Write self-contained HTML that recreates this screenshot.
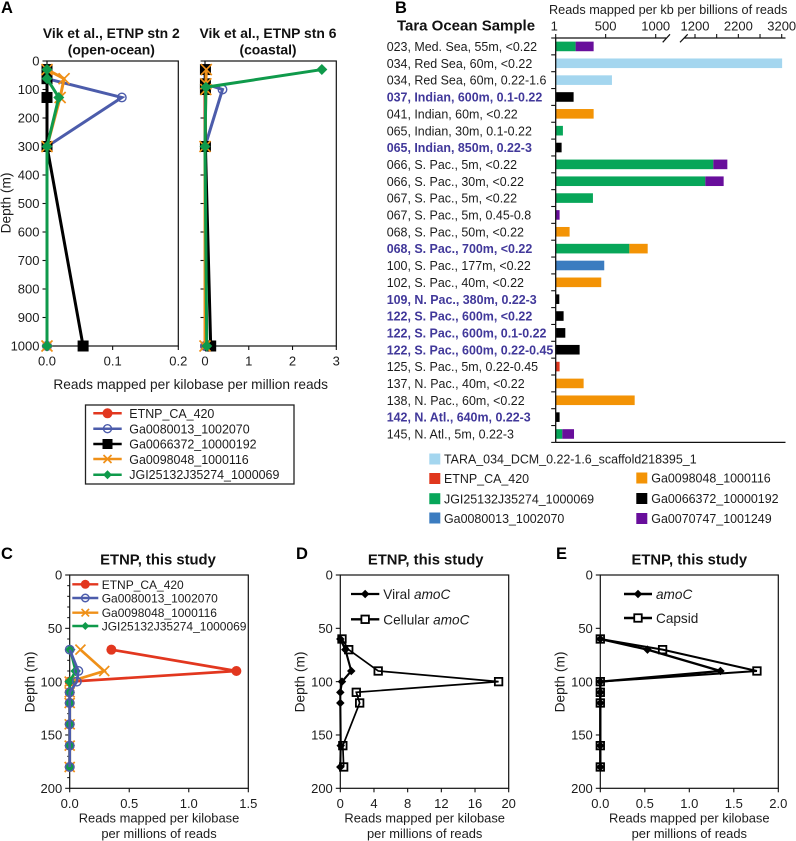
<!DOCTYPE html>
<html lang="en">
<head>
<meta charset="utf-8">
<title>Reads mapped depth profiles and Tara Ocean samples</title>
<style>
  html, body { margin: 0; padding: 0; background: #fff; }
  svg { display: block; filter: blur(0.3px); }
  text { font-family: "Liberation Sans", Arial, sans-serif; fill: #1c1c1c; }
  .t { font-weight: bold; fill: #111; text-anchor: middle; }
  .l { font-weight: bold; fill: #000; font-size: 16.5px; }
  .ax { font-size: 13.7px; text-anchor: middle; }
  .ax2 { font-size: 12.9px; text-anchor: middle; }
  .lg { font-size: 12.45px; }
</style>
</head>
<body>
<svg id="fig" xmlns="http://www.w3.org/2000/svg" width="796" height="841" viewBox="0 0 796 841">
  <rect x="0" y="0" width="796" height="841" fill="#fff"/>

  <!-- Panel letters -->
  <text class="l" x="1" y="13">A</text>
  <text class="l" x="395" y="13">B</text>
  <text class="l" x="1" y="559">C</text>
  <text class="l" x="296" y="559">D</text>
  <text class="l" x="556" y="559">E</text>

  <!-- Panel A text -->
  <text class="t" x="111.3" y="38" font-size="13.9">Vik et al., ETNP stn 2</text>
  <text class="t" x="111.3" y="54.5" font-size="13.9">(open-ocean)</text>
  <text class="t" x="268" y="38" font-size="13.9">Vik et al., ETNP stn 6</text>
  <text class="t" x="268" y="54.5" font-size="13.9">(coastal)</text>
  <text class="ax" transform="translate(10.5,203) rotate(-90)">Depth (m)</text>
  <text class="ax" x="190.7" y="389">Reads mapped per kilobase per million reads</text>

  <!-- Panel A legend -->
  <rect x="85.5" y="405" width="208.5" height="79" fill="#fff" stroke="#222" stroke-width="1.3"/>
  <text class="lg" x="129.3" y="418">ETNP_CA_420</text>
  <text class="lg" x="129.3" y="433.3">Ga0080013_1002070</text>
  <text class="lg" x="129.3" y="448.6">Ga0066372_10000192</text>
  <text class="lg" x="129.3" y="463.8">Ga0098048_1000116</text>
  <text class="lg" x="129.3" y="479.2">JGI25132J35274_1000069</text>

  <!-- Panel B text -->
  <text class="t" x="466" y="30.5" font-size="15">Tara Ocean Sample</text>
  <text x="549" y="14" font-size="12.7">Reads mapped per kb per billions of reads</text>

  <!-- Panel B legend text -->
  <text class="lg" x="444" y="463.5">TARA_034_DCM_0.22-1.6_scaffold218395_1</text>
  <text class="lg" x="444" y="483">ETNP_CA_420</text>
  <text class="lg" x="444" y="503.5">JGI25132J35274_1000069</text>
  <text class="lg" x="444" y="523">Ga0080013_1002070</text>
  <text class="lg" x="651.3" y="482.5">Ga0098048_1000116</text>
  <text class="lg" x="651.3" y="503">Ga0066372_10000192</text>
  <text class="lg" x="651.3" y="523">Ga0070747_1001249</text>

  <!-- Panel C text -->
  <text class="t" x="158" y="564.5" font-size="14.8">ETNP, this study</text>
  <text class="ax" transform="translate(34.5,682) rotate(-90)">Depth (m)</text>
  <text class="ax2" x="159" y="822.5">Reads mapped per kilobase</text>
  <text class="ax2" x="159" y="838">per millions of reads</text>
  <text x="101.7" y="589" font-size="12">ETNP_CA_420</text>
  <text x="101.7" y="602.5" font-size="12">Ga0080013_1002070</text>
  <text x="101.7" y="617" font-size="12">Ga0098048_1000116</text>
  <text x="101.7" y="630.5" font-size="12">JGI25132J35274_1000069</text>

  <!-- Panel D text -->
  <text class="t" x="425.7" y="564.5" font-size="14.8">ETNP, this study</text>
  <text class="ax" transform="translate(304.5,682) rotate(-90)">Depth (m)</text>
  <text class="ax2" x="424.7" y="822.5">Reads mapped per kilobase</text>
  <text class="ax2" x="424.7" y="838">per millions of reads</text>
  <text x="383.3" y="599" font-size="13.6">Viral <tspan font-style="italic">amoC</tspan></text>
  <text x="383.3" y="624.3" font-size="13.6">Cellular <tspan font-style="italic">amoC</tspan></text>

  <!-- Panel E text -->
  <text class="t" x="689.3" y="564.5" font-size="14.8">ETNP, this study</text>
  <text class="ax" transform="translate(564.5,682) rotate(-90)">Depth (m)</text>
  <text class="ax2" x="689.3" y="822.5">Reads mapped per kilobase</text>
  <text class="ax2" x="689.3" y="838">per millions of reads</text>
  <text x="656" y="599" font-size="13.6" font-style="italic">amoC</text>
  <text x="656" y="623" font-size="13.6">Capsid</text>
</svg>

<script>
// ---------- Panel A1 data (depth m, reads per kb per million) ----------
var a1Depths = [30, 62, 128, 300, 1000];
var a1Etnp = [0, 0, 0, 0, 0];
var a1Ga0080013 = [0, 0, 0.114, 0, 0];
var a1Ga0066372 = [0, 0, 0, 0, 0.055];
var a1Ga0098048 = [0, 0.026, 0.02, 0, 0];
var a1Jgi = [0, 0, 0.018, 0, 0];
var a1XTicks = [0, 0.1, 0.2];
var a1XLabels = ['0.0', '0.1', '0.2'];

// ---------- Panel A2 data ----------
var a2Depths = [30, 80, 100, 300, 1000];
var a2GreenDepths = [30, 92, 300, 1000];
var a2Etnp = [0, 0, 0, 0, 0];
var a2Ga0080013 = [0, 0, 0.4, 0, 0];
var a2Ga0066372 = [0.01, 0.01, 0.01, 0.01, 0.13];
var a2Ga0098048 = [0.03, 0.02, 0.02, 0, 0];
var a2Jgi = [2.67, 0.02, 0, 0.04];
var a2XTicks = [0, 1, 2, 3];
var a2XLabels = ['0', '1', '2', '3'];
var aDepthTicks = [0, 100, 200, 300, 400, 500, 600, 700, 800, 900, 1000];

// ---------- Panel B data ----------
var taraSamples = ['023, Med. Sea, 55m, <0.22', '034, Red Sea, 60m, <0.22', '034, Red Sea, 60m, 0.22-1.6', '037, Indian, 600m, 0.1-0.22', '041, Indian, 60m, <0.22', '065, Indian, 30m, 0.1-0.22', '065, Indian, 850m, 0.22-3', '066, S. Pac., 5m, <0.22', '066, S. Pac., 30m, <0.22', '067, S. Pac., 5m, <0.22', '067, S. Pac., 5m, 0.45-0.8', '068, S. Pac., 50m, <0.22', '068, S. Pac., 700m, <0.22', '100, S. Pac., 177m, <0.22', '102, S. Pac., 40m, <0.22', '109, N. Pac., 380m, 0.22-3', '122, S. Pac., 600m, <0.22', '122, S. Pac., 600m, 0.1-0.22', '122, S. Pac., 600m, 0.22-0.45', '125, S. Pac., 5m, 0.22-0.45', '137, N. Pac., 40m, <0.22', '138, N. Pac., 60m, <0.22', '142, N. Atl., 640m, 0.22-3', '145, N. Atl., 5m, 0.22-3'];
var deepSamples = [0, 0, 0, 1, 0, 0, 1, 0, 0, 0, 0, 0, 1, 0, 0, 1, 1, 1, 1, 0, 0, 0, 1, 0];
var barTara = [0, 3210, 563, 0, 0, 0, 0, 0, 0, 0, 0, 0, 0, 0, 0, 0, 0, 0, 0, 0, 0, 0, 0, 0];
var barEtnp = [0, 0, 0, 0, 0, 0, 0, 0, 0, 0, 0, 0, 0, 0, 0, 0, 0, 0, 0, 40, 0, 0, 0, 0];
var barJgi = [200, 0, 0, 0, 0, 73, 0, 1623, 1438, 373, 0, 0, 737, 0, 0, 0, 0, 0, 0, 0, 0, 0, 0, 67];
var barGa0080013 = [0, 0, 0, 0, 0, 0, 0, 0, 0, 0, 0, 0, 0, 486, 0, 0, 0, 0, 0, 0, 0, 0, 0, 0];
var barGa0098048 = [0, 0, 0, 0, 380, 0, 0, 0, 0, 0, 0, 140, 183, 0, 456, 0, 0, 0, 0, 0, 280, 790, 0, 0];
var barGa0066372 = [0, 0, 0, 180, 0, 0, 60, 0, 0, 0, 0, 0, 0, 0, 0, 37, 80, 97, 240, 0, 0, 0, 40, 0];
var barGa0070747 = [180, 0, 0, 0, 0, 0, 0, 323, 423, 0, 40, 0, 0, 0, 0, 0, 0, 0, 0, 0, 0, 0, 0, 117];
var bTickValues = [1, 500, 1000, 1200, 1700, 2200, 2700, 3200];
var bTickLabels = ['1', '500', '1000', '1200', '', '2200', '', '3200'];

// ---------- Panel C data ----------
var cDepths = [70, 90, 100, 110, 120, 140, 160, 180];
var cEtnp = [0.35, 1.4, 0, 0, 0, 0, 0, 0];
var cGa0080013 = [0, 0.073, 0.06, 0, 0, 0, 0, 0];
var cGa0098048 = [0.09, 0.29, 0, 0, 0, 0, 0, 0];
var cJgi = [0.005, 0.05, 0, 0, 0, 0, 0, 0];
var cXTicks = [0, 0.5, 1, 1.5];
var cXLabels = ['0.0', '0.5', '1.0', '1.5'];

// ---------- Panel D data ----------
var dDepths = [60, 70, 90, 100, 110, 120, 160, 180];
var dViral = [0, 0.6, 1.3, 0.2, 0, 0, 0.05, 0];
var dCellular = [0.2, 1, 4.5, 18.8, 1.9, 2.3, 0.3, 0.4];
var dXTicks = [0, 4, 8, 12, 16, 20];
var dXLabels = ['0', '4', '8', '12', '16', '20'];

// ---------- Panel E data ----------
var eDepths = [60, 70, 90, 100, 110, 120, 160, 180];
var eAmoC = [0, 0.53, 1.35, 0, 0, 0, 0, 0];
var eCapsid = [0, 0.7, 1.76, 0, 0, 0, 0, 0];
var eXTicks = [0, 0.5, 1, 1.5, 2];
var eXLabels = ['0.0', '0.5', '1.0', '1.5', '2.0'];
var ceDepthTicks = [0, 50, 100, 150, 200];
var cMinorTicks = [10, 20, 30, 40, 60, 70, 80, 90, 110, 120, 130, 140, 160, 170, 180, 190];

// ---------- Colours ----------
var RED = '#e2371f', BLUE = '#4c5cab', BLK = '#000', ORG = '#ef9018', GRN = '#0f9a4b';

var svg = document.getElementById('fig');
var NS = 'http://www.w3.org/2000/svg';

function mk(tag, attrs, parent) {
  var el = document.createElementNS(NS, tag);
  for (var k in attrs) el.setAttribute(k, attrs[k]);
  (parent || svg).appendChild(el);
  return el;
}

function linear(d0, d1, r0, r1) {
  return function (v) { return r0 + (v - d0) / (d1 - d0) * (r1 - r0); };
}

function drawMarker(g, kind, x, y, color, size) {
  var s = size / 2, m;
  if (kind === 'circle') {
    m = mk('circle', { cx: x, cy: y, r: s, fill: color }, g);
  } else if (kind === 'ring') {
    m = mk('circle', { cx: x, cy: y, r: s, fill: 'none', stroke: color, 'stroke-width': 1.4 }, g);
  } else if (kind === 'square') {
    m = mk('rect', { x: x - s, y: y - s, width: size, height: size, fill: color }, g);
  } else if (kind === 'hollow') {
    m = mk('rect', { x: x - s, y: y - s, width: size, height: size, fill: 'none', stroke: color, 'stroke-width': 1.8 }, g);
  } else if (kind === 'diamond') {
    m = mk('polygon', { points: (x - s) + ',' + y + ' ' + x + ',' + (y - s) + ' ' + (x + s) + ',' + y + ' ' + x + ',' + (y + s), fill: color }, g);
  } else {
    m = mk('path', { d: 'M' + (x - s) + ' ' + (y - s) + 'L' + (x + s) + ' ' + (y + s) + 'M' + (x - s) + ' ' + (y + s) + 'L' + (x + s) + ' ' + (y - s), stroke: color, 'stroke-width': 1.7, fill: 'none' }, g);
  }
  
  
}

function drawSeries(name, depths, values, xs, ys, color, kind, size, width) {
  var g = mk('g', {});
  
  
  var pts = values.map(function (v, i) { return xs(v) + ',' + ys(depths[i]); }).join(' ');
  var line = mk('polyline', { points: pts, fill: 'none', stroke: color, 'stroke-width': width, 'stroke-linejoin': 'miter' }, g);
  
  
  values.forEach(function (v, i) { drawMarker(g, kind, xs(v), ys(depths[i]), color, size); });
}

function tickText(name, x, y, str, anchor, size) {
  var t = mk('text', { x: x, y: y, 'text-anchor': anchor, 'font-size': size });
  
  
  t.textContent = str;
}

function drawFrame(name, x0, x1, y0, y1, xs, ys, xTicks, xLabels, yTicks, yLabelled, minor) {
  var f = mk('rect', { x: x0, y: y0, width: x1 - x0, height: y1 - y0, fill: 'none', stroke: '#111', 'stroke-width': 1.2 });
  
  
  xTicks.forEach(function (v, i) {
    var t = mk('line', { x1: xs(v), x2: xs(v), y1: y1, y2: y1 + 4, stroke: '#111', 'stroke-width': 1.1 });
    
    
    tickText(name + '-x-tick-label', xs(v), y1 + 19.5, xLabels[i], 'middle', 13);
  });
  yTicks.forEach(function (v) {
    var t = mk('line', { x1: x0 - 4.5, x2: x0, y1: ys(v), y2: ys(v), stroke: '#111', 'stroke-width': 1.1 });
    
    
    if (yLabelled) tickText(name + '-y-tick-label', x0 - 7.5, ys(v) + 4.6, String(v), 'end', 13);
  });
  (minor || []).forEach(function (v) {
    var t = mk('line', { x1: x0 - 2.5, x2: x0, y1: ys(v), y2: ys(v), stroke: '#111', 'stroke-width': 1 });
    
    
  });
}

function drawKey(name, x1, x2, y, color, kind, size, width) {
  var g = mk('g', {});
  
  
  var ln = mk('line', { x1: x1, x2: x2, y1: y, y2: y, stroke: color, 'stroke-width': width }, g);
  
  
  if (kind === 'hollow') {
    var bg = mk('rect', { x: (x1 + x2) / 2 - size / 2, y: y - size / 2, width: size, height: size, fill: '#fff' }, g);
    
    
  }
  drawMarker(g, kind, (x1 + x2) / 2, y, color, size);
}

// ---------- Panel A1 ----------
var a1x = linear(0, 0.2, 47, 178.3), a1y = linear(0, 1000, 61, 346);
drawFrame('panel-a1', 47, 178.3, 61, 346, a1x, a1y, a1XTicks, a1XLabels, aDepthTicks, true);
drawSeries('a1-etnp-ca-420', a1Depths, a1Etnp, a1x, a1y, RED, 'circle', 10, 3);
drawSeries('a1-ga0080013', a1Depths, a1Ga0080013, a1x, a1y, BLUE, 'ring', 8.5, 3);
drawSeries('a1-ga0066372', a1Depths, a1Ga0066372, a1x, a1y, BLK, 'square', 11, 3);
drawSeries('a1-ga0098048', a1Depths, a1Ga0098048, a1x, a1y, ORG, 'cross', 11, 3);
drawSeries('a1-jgi25132', a1Depths, a1Jgi, a1x, a1y, GRN, 'diamond', 11, 3);

// ---------- Panel A2 ----------
var a2x = linear(0, 3, 205, 336.3), a2y = linear(0, 1000, 61, 346);
drawFrame('panel-a2', 205, 336.3, 61, 346, a2x, a2y, a2XTicks, a2XLabels, aDepthTicks, false);
drawSeries('a2-etnp-ca-420', a2Depths, a2Etnp, a2x, a2y, RED, 'circle', 10, 3);
drawSeries('a2-ga0080013', a2Depths, a2Ga0080013, a2x, a2y, BLUE, 'ring', 8.5, 3);
drawSeries('a2-ga0066372', a2Depths, a2Ga0066372, a2x, a2y, BLK, 'square', 11, 3);
drawSeries('a2-ga0098048', a2Depths, a2Ga0098048, a2x, a2y, ORG, 'cross', 11, 3);
drawSeries('a2-jgi25132', a2GreenDepths, a2Jgi, a2x, a2y, GRN, 'diamond', 11, 3);

// ---------- Panel A legend keys ----------
drawKey('legend-key-etnp', 93.3, 121.7, 413.3, RED, 'circle', 10, 2.5);
drawKey('legend-key-ga0080013', 93.3, 121.7, 428.7, BLUE, 'ring', 8, 2.5);
drawKey('legend-key-ga0066372', 93.3, 121.7, 444, BLK, 'square', 10, 2.5);
drawKey('legend-key-ga0098048', 93.3, 121.7, 459, ORG, 'cross', 8, 2.5);
drawKey('legend-key-jgi', 93.3, 121.7, 474.7, GRN, 'diamond', 9, 2.5);

// ---------- Panel B ----------
var ROW = 16.85, B_TOP = 38, B_X0 = 555.7;
var bx1 = linear(1, 1000, B_X0, 655.7);
var bxMid = linear(1000, 1200, 655.7, 695);
var bx2 = linear(1200, 3200, 695, 781.7);
function barX(v) { return v <= 1000 ? bx1(Math.max(v, 1)) : (v <= 1200 ? bxMid(v) : bx2(v)); }
function rowY(i) { return B_TOP + (i + 0.5) * ROW; }

var barSeries = [
  { name: 'tara-scaffold', values: barTara, color: '#a4d6ef' },
  { name: 'etnp-ca-420', values: barEtnp, color: '#e0371d' },
  { name: 'jgi25132', values: barJgi, color: '#07a659' },
  { name: 'ga0080013', values: barGa0080013, color: '#3b7cc0' },
  { name: 'ga0098048', values: barGa0098048, color: '#f39305' },
  { name: 'ga0066372', values: barGa0066372, color: '#000' },
  { name: 'ga0070747', values: barGa0070747, color: '#680e9b' }
];

taraSamples.forEach(function (label, i) {
  var t = mk('text', { x: 386.7, y: rowY(i) + 4.6, 'font-size': 12.45 });
  if (deepSamples[i]) {
    t.setAttribute('font-weight', 'bold');
    t.setAttribute('style', 'fill:#41389a');
  }
  
  
  t.textContent = label;

  var cum = 0;
  barSeries.forEach(function (s) {
    var v = s.values[i];
    if (!v) return;
    var xa = barX(cum), xb = barX(cum + v);
    var r = mk('rect', { x: xa, y: rowY(i) - 4.8, width: xb - xa, height: 9.6, fill: s.color });
    
    
    cum += v;
  });
});

for (var ri = 0; ri <= taraSamples.length; ri++) {
  var rt = mk('line', { x1: B_X0 - 4.5, x2: B_X0, y1: B_TOP + ri * ROW, y2: B_TOP + ri * ROW, stroke: '#111', 'stroke-width': 1.1 });
  
  
}
var bBottom = B_TOP + taraSamples.length * ROW;
var bl = mk('line', { x1: B_X0, x2: B_X0, y1: B_TOP, y2: bBottom, stroke: '#111', 'stroke-width': 1.3 });


var bb = mk('line', { x1: B_X0, x2: 785.5, y1: bBottom, y2: bBottom, stroke: '#111', 'stroke-width': 1.3 });


var ba = mk('line', { x1: B_X0, x2: 666.3, y1: B_TOP, y2: B_TOP, stroke: '#111', 'stroke-width': 1.3 });


var bc = mk('line', { x1: 684, x2: 785.5, y1: B_TOP, y2: B_TOP, stroke: '#111', 'stroke-width': 1.3 });


var sl1 = mk('line', { x1: 662.7, y1: 42.3, x2: 670, y2: 34.3, stroke: '#111', 'stroke-width': 1.2 });


var sl2 = mk('line', { x1: 680, y1: 42.3, x2: 687.7, y2: 34.3, stroke: '#111', 'stroke-width': 1.2 });


bTickValues.forEach(function (v, i) {
  var t = mk('line', { x1: barX(v), x2: barX(v), y1: B_TOP - 4, y2: B_TOP, stroke: '#111', 'stroke-width': 1.1 });
  
  
  if (bTickLabels[i]) tickText('panel-b-x-tick-label', barX(v) - (v === 1 ? 1.5 : 0), 30.5, bTickLabels[i], 'middle', 13);
});

function swatch(name, x, y, color) {
  var r = mk('rect', { x: x, y: y - 5.5, width: 11, height: 11, fill: color });
  
  
}
swatch('swatch-tara-scaffold', 429.3, 459, '#a4d6ef');
swatch('swatch-etnp-ca-420', 429.3, 478.5, '#e0371d');
swatch('swatch-jgi25132', 429.3, 498.7, '#07a659');
swatch('swatch-ga0080013', 429.3, 518, '#3b7cc0');
swatch('swatch-ga0098048', 636.3, 478, '#f39305');
swatch('swatch-ga0066372', 636.3, 498.5, '#000');
swatch('swatch-ga0070747', 636.3, 518.5, '#680e9b');

// ---------- Panel C ----------
var cx = linear(0, 1.5, 69.7, 248.3), cy = linear(0, 200, 575, 788.3);
drawFrame('panel-c', 69.7, 248.3, 575, 788.3, cx, cy, cXTicks, cXLabels, ceDepthTicks, true, cMinorTicks);
drawSeries('c-etnp-ca-420', cDepths, cEtnp, cx, cy, RED, 'circle', 10, 2.7);
drawSeries('c-ga0098048', cDepths, cGa0098048, cx, cy, ORG, 'cross', 10, 2.7);
drawSeries('c-jgi25132', cDepths, cJgi, cx, cy, GRN, 'diamond', 10.5, 2.7);
drawSeries('c-ga0080013', cDepths, cGa0080013, cx, cy, BLUE, 'ring', 8.5, 2.7);
drawKey('c-legend-key-etnp', 72.3, 98.3, 584.3, RED, 'circle', 9, 2.4);
drawKey('c-legend-key-ga0080013', 72.3, 98.3, 598, BLUE, 'ring', 7.5, 2.4);
drawKey('c-legend-key-ga0098048', 72.3, 98.3, 612.7, ORG, 'cross', 7.5, 2.4);
drawKey('c-legend-key-jgi', 72.3, 98.3, 626, GRN, 'diamond', 8, 2.4);

// ---------- Panel D ----------
var dx = linear(0, 20, 340.3, 508.7), dy = linear(0, 200, 575, 788.3);
drawFrame('panel-d', 340.3, 508.7, 575, 788.3, dx, dy, dXTicks, dXLabels, ceDepthTicks, true);
drawSeries('d-viral-amoc', dDepths, dViral, dx, dy, '#000', 'diamond', 8.5, 2.1);
drawSeries('d-cellular-amoc', dDepths, dCellular, dx, dy, '#000', 'hollow', 7.5, 1.7);
drawKey('d-legend-key-viral', 351, 379.3, 594, '#000', 'diamond', 8.5, 2.3);
drawKey('d-legend-key-cellular', 351, 379.3, 619.3, '#000', 'hollow', 7.5, 2.3);

// ---------- Panel E ----------
var ex = linear(0, 2, 600.3, 778.3), ey = linear(0, 200, 575, 788.3);
drawFrame('panel-e', 600.3, 778.3, 575, 788.3, ex, ey, eXTicks, eXLabels, ceDepthTicks, true);
drawSeries('e-amoc', eDepths, eAmoC, ex, ey, '#000', 'diamond', 8.5, 2.3);
drawSeries('e-capsid', eDepths, eCapsid, ex, ey, '#000', 'hollow', 7.5, 2);
drawKey('e-legend-key-amoc', 624, 652, 594, '#000', 'diamond', 8.5, 2.5);
drawKey('e-legend-key-capsid', 624, 652, 618, '#000', 'hollow', 7.5, 2.5);
</script>
</body>
</html>
